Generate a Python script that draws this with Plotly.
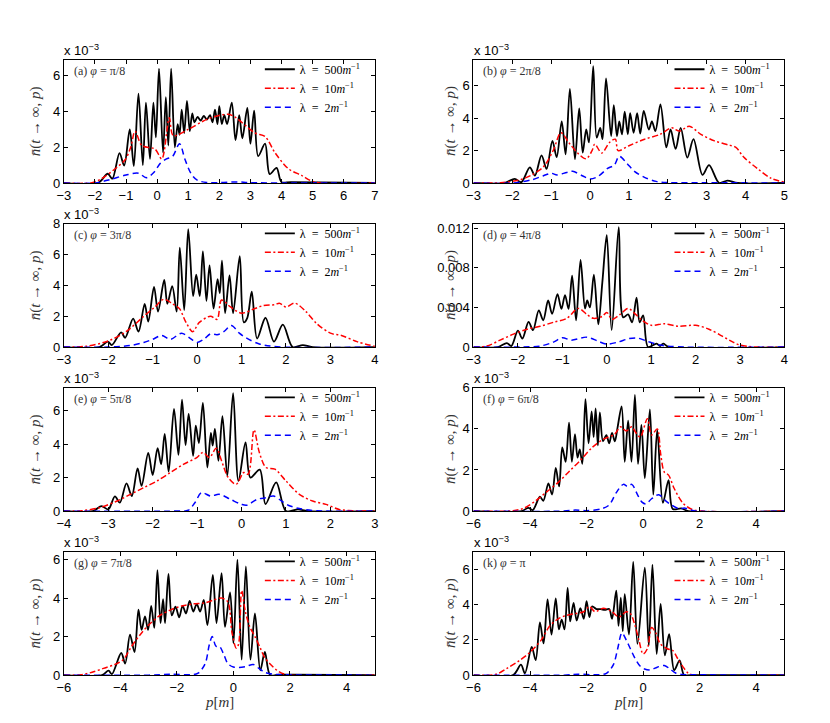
import plotly.graph_objects as go
from plotly.subplots import make_subplots

# pair number n(t->inf, p), in units of 1e-3
# (a) phi = pi/8
A_P_500 = [-3, -1.9, -1.59, -1.44, -1.21, -1.06, -0.88, -0.75, -0.60, -0.46, -0.36, -0.23, -0.12, -0.04,
           0.06, 0.19, 0.28, 0.36, 0.45, 0.57, 0.66, 0.72, 0.79, 0.87, 0.96, 1.05, 1.13, 1.2, 1.3, 1.4,
           1.5, 1.6, 1.7, 1.78, 1.86, 1.94, 2.0, 2.08, 2.16, 2.25, 2.4, 2.52, 2.64, 2.74, 2.9, 3.0, 3.12,
           3.25, 3.47, 3.62, 3.84, 4.0, 4.3, 7]
A_N_500 = [0, 0, 0.52, 0.24, 1.67, 0.98, 3.0, 0.95, 5.0, 1.0, 4.5, 1.35, 4.5, 2.55,
           6.4, 1.7, 4.8, 2.1, 6.4, 2.0, 3.3, 2.7, 4.1, 2.8, 4.6, 2.9, 3.9, 3.4, 3.7, 3.5,
           3.75, 3.55, 3.8, 3.4, 4.1, 3.3, 4.3, 3.3, 3.8, 3.3, 4.5, 2.4, 3.8, 2.5, 4.2, 2.2, 4.05,
           1.5, 2.2, 0.5, 0.85, 0.05, 0.05, 0]
A_P_10 = [-3, -2.1, -1.78, -1.35, -1.03, -0.85, -0.71, -0.49, -0.07, 0.15, 0.39, 0.52, 1.0, 1.65, 2.29,
          2.5, 2.72, 3.15, 3.47, 3.79, 4.22, 4.64, 5.07, 7]
A_N_10 = [0, 0.02, 0.25, 0.8, 1.3, 2.0, 2.9, 2.1, 1.9, 1.35, 3.65, 2.65, 3.0, 3.6, 3.85,
          3.7, 3.4, 2.8, 2.6, 1.7, 0.8, 0.43, 0.05, 0]
A_P_2 = [-3, -2.0, -1.5, -1.0, -0.6, -0.35, -0.1, 0.1, 0.3, 0.5, 0.72, 0.9, 1.1, 1.3, 1.6, 2.0, 2.6, 3.0, 7]
A_N_2 = [0, 0.0, 0.2, 0.45, 0.55, 0.3, 0.6, 1.1, 1.35, 1.5, 2.2, 1.3, 0.5, 0.15, 0.03, 0.02, 0.06, 0.02, 0]

# (b) phi = 2pi/8
B_P_500 = [-3, -2.2, -1.94, -1.77, -1.55, -1.42, -1.25, -1.12, -0.97, -0.86, -0.73, -0.63, -0.52, -0.39,
           -0.28, -0.19, -0.10, -0.03, 0.08, 0.17, 0.26, 0.32, 0.41, 0.54, 0.61, 0.69, 0.75, 0.82, 0.89,
           0.97, 1.03, 1.12, 1.21, 1.29, 1.38, 1.51, 1.59, 1.68, 1.81, 1.96, 2.07, 2.20, 2.33, 2.50, 2.66,
           2.89, 3.06, 3.32, 3.53, 3.8, 5]
B_N_500 = [0, 0.0, 0.26, 0.05, 0.97, 0.46, 1.7, 0.87, 2.6, 1.6, 3.8, 1.77, 5.8, 1.47,
           4.6, 1.87, 3.3, 2.5, 7.2, 2.8, 3.4, 2.7, 6.45, 2.9, 4.8, 2.9, 3.8, 3.0, 4.4,
           3.0, 4.3, 3.1, 4.3, 3.05, 4.45, 3.3, 3.8, 3.2, 4.85, 2.2, 3.3, 2.1, 3.4, 1.57, 2.7,
           0.5, 1.1, 0.0, 0.15, 0.0, 0]
B_P_10 = [-3, -2.3, -1.8, -1.5, -1.2, -0.95, -0.75, -0.55, -0.3, -0.1, 0.05, 0.12, 0.3, 0.5, 0.65, 0.72,
          1.0, 1.4, 1.8, 2.1, 2.3, 2.55, 2.85, 3.2, 3.55, 3.75, 3.95, 4.3, 4.65, 5.0]
B_N_10 = [0, 0.02, 0.2, 0.5, 1.0, 2.0, 3.1, 2.5, 1.8, 1.5, 2.0, 2.4, 1.85, 2.5, 2.7, 2.0,
          2.3, 2.7, 3.0, 3.4, 3.2, 3.5, 3.0, 2.6, 2.35, 2.2, 1.6, 0.9, 0.3, 0.05]
B_P_2 = [-3, -2.0, -1.5, -1.2, -1.0, -0.85, -0.6, -0.45, -0.2, 0.0, 0.2, 0.45, 0.62, 0.75, 0.95, 1.15,
         1.4, 1.7, 2.0, 3.0, 5]
B_N_2 = [0, 0.0, 0.2, 0.45, 0.6, 0.5, 0.65, 0.72, 0.45, 0.25, 0.4, 0.9, 1.1, 1.65, 1.2, 0.7,
         0.35, 0.1, 0.03, 0.02, 0]

# (c) phi = 3pi/8
C_P_500 = [-3, -2.2, -2.01, -1.92, -1.71, -1.62, -1.44, -1.32, -1.18, -1.10, -0.97, -0.88, -0.74, -0.67,
           -0.56, -0.46, -0.39, -0.29, -0.20, -0.09, -0.02, 0.06, 0.13, 0.21, 0.28, 0.37, 0.46, 0.51,
           0.56, 0.63, 0.73, 0.81, 0.96, 1.05, 1.13, 1.23, 1.35, 1.54, 1.73, 1.93, 2.15, 2.38, 2.6, 4]
C_N_500 = [0, 0.0, 0.35, 0.13, 0.95, 0.6, 1.85, 1.0, 2.8, 1.65, 3.9, 2.3, 4.35, 2.8,
           3.95, 2.3, 6.45, 2.4, 7.65, 3.3, 4.7, 3.3, 6.2, 3.0, 5.3, 2.5, 4.4, 3.5,
           5.6, 2.2, 4.65, 2.2, 5.9, 1.6, 1.9, 3.6, 0.55, 1.9, 0.35, 1.45, 0.0, 0.13, 0.0, 0]
C_P_10 = [-3, -2.5, -2.0, -1.6, -1.2, -0.95, -0.75, -0.55, -0.4, -0.25, -0.1, 0.05, 0.3, 0.45, 0.55,
          0.75, 1.0, 1.3, 1.5, 1.75, 1.85, 2.0, 2.2, 2.45, 2.7, 3.0, 3.25, 3.6, 4.0]
C_N_10 = [0, 0.05, 0.4, 1.0, 2.0, 2.6, 3.1, 2.8, 2.5, 1.6, 1.0, 1.6, 2.0, 1.8, 3.05,
          2.6, 2.2, 2.5, 2.7, 2.75, 2.85, 2.6, 2.85, 2.3, 1.5, 0.9, 0.75, 0.35, 0.05]
C_P_2 = [-3, -2.0, -1.5, -1.2, -1.0, -0.8, -0.6, -0.35, -0.15, 0.0, 0.15, 0.3, 0.45, 0.6, 0.77, 0.95,
         1.1, 1.4, 1.8, 4]
C_N_2 = [0, 0.0, 0.1, 0.3, 0.5, 0.75, 0.5, 0.9, 0.55, 0.3, 0.5, 0.85, 0.8, 1.0, 1.4, 0.9,
         0.6, 0.2, 0.02, 0]

# (d) phi = 4pi/8
D_P_500 = [-3, -2.45, -2.25, -2.15, -2.0, -1.9, -1.76, -1.66, -1.53, -1.43, -1.32, -1.23, -1.11, -1.02,
           -0.94, -0.86, -0.78, -0.69, -0.59, -0.49, -0.44, -0.38, -0.29, -0.19, -0.10, 0.0, 0.11, 0.27,
           0.37, 0.48, 0.57, 0.67, 0.74, 0.82, 0.93, 1.12, 1.2, 1.27, 1.4, 4]
D_N_500 = [0, 0.0, 0.4, 0.1, 1.65, 0.85, 2.55, 1.7, 3.7, 2.7, 4.7, 3.35, 5.35, 3.85,
           5.25, 3.85, 7.2, 2.7, 8.8, 3.9, 4.7, 4.0, 7.3, 2.3, 6.5, 11.3, 1.7, 12.1,
           3.0, 3.3, 2.5, 5.0, 2.5, 3.2, 0.0, 0.35, 0.1, 0.35, 0.0, 0]
D_P_10 = [-3, -2.7, -2.4, -2.1, -1.8, -1.5, -1.2, -0.9, -0.64, -0.45, -0.3, -0.1, 0.0, 0.12, 0.3, 0.48,
          0.65, 0.8, 1.0, 1.3, 1.6, 2.0, 2.3, 2.6, 2.8, 3.0, 3.3, 4]
D_N_10 = [0, 0.1, 0.7, 1.3, 1.8, 2.1, 2.5, 2.9, 3.9, 3.3, 2.9, 3.1, 3.5, 2.8, 3.3, 3.9,
          3.3, 2.7, 2.2, 2.35, 2.1, 2.2, 1.8, 1.1, 0.6, 0.2, 0.02, 0]
D_P_2 = [-3, -2.0, -1.5, -1.2, -1.0, -0.8, -0.45, -0.2, 0.0, 0.25, 0.5, 0.7, 0.9, 1.2, 1.6, 4]
D_N_2 = [0, 0.0, 0.1, 0.5, 0.95, 0.7, 1.0, 0.6, 0.3, 0.5, 0.85, 0.9, 0.6, 0.2, 0.02, 0]

# (e) phi = 5pi/8
E_P_500 = [-4, -3.35, -3.15, -3.0, -2.85, -2.74, -2.59, -2.47, -2.34, -2.25, -2.10, -2.0, -1.89, -1.81,
           -1.73, -1.64, -1.52, -1.42, -1.34, -1.26, -1.19, -1.09, -1.03, -0.96, -0.87, -0.77, -0.69,
           -0.65, -0.60, -0.52, -0.43, -0.32, -0.19, -0.07, 0.09, 0.2, 0.41, 0.54, 0.78, 1.0, 1.27, 1.5, 3]
E_N_500 = [0, 0.0, 0.3, 0.1, 0.88, 0.5, 1.65, 0.9, 2.55, 1.5, 3.47, 2.15, 3.75, 2.8,
           4.6, 2.35, 6.1, 3.35, 6.65, 3.94, 5.8, 3.3, 5.1, 4.06, 6.45, 2.6, 4.66,
           3.9, 4.9, 3.0, 5.66, 2.1, 7.03, 1.8, 4.1, 2.0, 2.47, 0.42, 1.71, 0.0, 0.1, 0.0, 0]
E_P_10 = [-4, -3.6, -3.2, -2.8, -2.5, -2.2, -1.9, -1.6, -1.3, -1.0, -0.87, -0.72, -0.57, -0.45, -0.3,
          -0.12, 0.05, 0.15, 0.28, 0.4, 0.55, 0.75, 1.0, 1.3, 1.6, 1.9, 2.2, 2.5, 3]
E_N_10 = [0, 0.02, 0.2, 0.6, 1.0, 1.4, 1.8, 2.3, 2.8, 3.2, 3.5, 3.2, 3.75, 3.0, 2.0,
          1.6, 2.3, 2.2, 4.85, 3.5, 2.6, 2.5, 1.8, 1.0, 0.6, 0.4, 0.1, 0.02, 0]
E_P_2 = [-4, -1.5, -1.2, -1.05, -0.9, -0.7, -0.5, -0.25, 0.0, 0.12, 0.35, 0.55, 0.72, 0.9, 1.05, 1.3,
         1.7, 3]
E_N_2 = [0, 0.0, 0.05, 0.5, 1.1, 0.9, 1.0, 0.7, 0.4, 0.35, 0.7, 0.8, 0.9, 0.6, 0.35, 0.15,
         0.02, 0]

# (f) phi = 6pi/8
F_P_500 = [-6, -4.3, -4.06, -3.9, -3.65, -3.53, -3.35, -3.22, -3.09, -2.97, -2.86, -2.74, -2.62, -2.52,
           -2.41, -2.32, -2.24, -2.15, -2.04, -1.93, -1.82, -1.75, -1.68, -1.6, -1.53, -1.42, -1.3,
           -1.2, -1.1, -1.0, -0.9, -0.76, -0.65, -0.53, -0.41, -0.29, -0.18, -0.06, 0.06, 0.24, 0.36,
           0.5, 0.7, 0.9, 1.05, 1.35, 1.6, 5]
F_N_500 = [0, 0.0, 0.16, 0.05, 0.7, 0.5, 1.35, 0.8, 2.1, 1.2, 3.1, 2.4, 4.3, 2.4,
           3.75, 2.6, 3.0, 2.3, 5.45, 3.3, 4.85, 3.6, 5.0, 3.2, 4.8, 3.4, 3.7,
           3.3, 3.8, 3.4, 4.1, 5.1, 2.4, 4.4, 2.4, 5.65, 2.3, 4.2, 1.6, 4.95, 0.8,
           3.95, 0.4, 1.5, 0.1, 0.13, 0.0, 0]
F_P_10 = [-6, -4.6, -4.2, -3.8, -3.4, -3.0, -2.6, -2.2, -1.8, -1.4, -1.0, -0.8, -0.6, -0.4, -0.25, -0.1,
          0.15, 0.3, 0.5, 0.62, 0.75, 0.9, 1.1, 1.4, 1.7, 2.1, 5]
F_N_10 = [0, 0.02, 0.15, 0.5, 0.95, 1.4, 1.95, 2.5, 3.1, 3.5, 3.75, 4.1, 3.9, 4.1, 3.8, 3.6,
          4.5, 3.7, 4.0, 2.8, 1.9, 1.75, 1.1, 0.4, 0.1, 0.0, 0]
F_P_2 = [-6, -2.8, -2.4, -2.0, -1.5, -1.2, -0.95, -0.7, -0.55, -0.4, -0.2, -0.05, 0.1, 0.3, 0.55, 0.8,
         1.0, 1.3, 1.45, 1.8, 5]
F_N_2 = [0, 0.0, 0.05, 0.02, 0.1, 0.3, 0.9, 1.3, 1.2, 1.3, 0.8, 0.45, 0.35, 0.6, 0.8, 0.5,
         0.3, 0.1, 0.15, 0.02, 0]

# (g) phi = 7pi/8
G_P_500 = [-6, -4.65, -4.42, -4.3, -3.97, -3.83, -3.66, -3.5, -3.36, -3.25, -3.13, -3.02, -2.91, -2.8,
           -2.69, -2.58, -2.49, -2.42, -2.30, -2.18, -2.05, -1.92, -1.8, -1.68, -1.55, -1.42, -1.3,
           -1.18, -1.05, -0.92, -0.73, -0.6, -0.42, -0.3, -0.12, 0.0, 0.14, 0.29, 0.44, 0.6, 0.76,
           0.95, 1.11, 1.3, 1.6, 5]
G_N_500 = [0, 0.0, 0.23, 0.05, 1.15, 0.6, 2.1, 1.2, 3.4, 2.35, 3.05, 2.35, 3.6, 2.45,
           5.45, 2.7, 3.95, 2.7, 5.25, 3.1, 3.55, 3.0, 3.6, 3.2, 3.85, 3.3, 3.7,
           3.3, 3.9, 2.6, 5.2, 2.7, 5.3, 2.5, 4.3, 1.65, 6.0, 0.8, 5.65, 0.8, 3.2,
           0.25, 1.2, 0.0, 0.02, 0]
G_P_10 = [-6, -5.4, -5.0, -4.6, -4.2, -3.9, -3.6, -3.3, -3.0, -2.6, -2.2, -1.8, -1.4, -1.0, -0.7, -0.42,
          -0.2, -0.05, 0.1, 0.18, 0.29, 0.42, 0.58, 0.76, 0.95, 1.11, 1.35, 1.59, 1.9, 5]
G_N_10 = [0, 0.02, 0.15, 0.35, 0.55, 0.8, 1.5, 2.1, 2.6, 3.1, 3.4, 3.6, 3.7, 3.75, 3.9, 4.0,
          3.8, 2.2, 1.4, 1.6, 4.4, 3.3, 2.5, 2.0, 1.4, 0.9, 0.5, 0.2, 0.02, 0]
G_P_2 = [-6, -3.0, -2.2, -1.5, -1.25, -1.0, -0.85, -0.75, -0.62, -0.5, -0.35, -0.2, 0.0, 0.2, 0.45, 0.7,
         0.9, 1.1, 1.4, 1.8, 5]
G_N_2 = [0, 0.0, 0.05, 0.02, 0.1, 0.6, 1.6, 2.0, 1.5, 1.5, 1.1, 0.6, 0.42, 0.4, 0.45, 0.55,
         0.35, 0.15, 0.05, 0.02, 0]

# (k) phi = pi
K_P_500 = [-6, -4.6, -4.32, -4.18, -3.94, -3.8, -3.65, -3.52, -3.38, -3.24, -3.09, -2.98, -2.88, -2.78,
           -2.67, -2.58, -2.46, -2.35, -2.22, -2.1, -2.0, -1.9, -1.8, -1.65, -1.5, -1.35, -1.2, -1.1,
           -0.95, -0.87, -0.79, -0.72, -0.65, -0.5, -0.35, -0.2, 0.06, 0.2, 0.33, 0.48, 0.62, 0.77,
           0.92, 1.1, 1.29, 1.45, 1.7, 5]
K_N_500 = [0, 0.0, 0.6, 0.1, 1.6, 0.85, 3.0, 1.8, 4.3, 2.3, 4.35, 2.6, 3.15, 2.6,
           4.95, 3.05, 4.1, 3.1, 3.8, 3.2, 4.2, 3.3, 3.9, 3.75, 3.75, 3.7, 3.75, 3.2,
           4.8, 2.8, 4.4, 2.5, 4.6, 2.3, 6.43, 1.77, 6.1, 1.68, 6.28, 1.2, 4.04, 1.12,
           2.33, 0.28, 0.84, 0.0, 0.0, 0]
K_P_10 = [-6, -5.2, -4.8, -4.4, -4.0, -3.6, -3.3, -3.0, -2.7, -2.4, -2.1, -1.9, -1.7, -1.4, -1.1, -0.85,
          -0.6, -0.45, -0.3, -0.15, 0.0, 0.15, 0.3, 0.45, 0.6, 0.85, 1.05, 1.2, 1.4, 1.6, 1.8, 5]
K_N_10 = [0, 0.05, 0.4, 0.8, 1.3, 2.0, 2.8, 3.2, 3.4, 3.5, 3.6, 3.9, 3.6, 3.8, 3.6, 3.3,
          3.6, 3.5, 2.9, 2.0, 1.2, 1.5, 2.7, 2.4, 1.8, 1.5, 1.4, 1.0, 0.5, 0.1, 0.0, 0]
K_P_2 = [-6, -2.8, -2.3, -1.6, -1.3, -1.05, -0.9, -0.75, -0.6, -0.45, -0.3, -0.1, 0.05, 0.25, 0.5, 0.75,
         0.95, 1.15, 1.4, 1.8, 5]
K_N_2 = [0, 0.0, 0.05, 0.02, 0.1, 0.6, 1.5, 2.4, 2.0, 1.5, 1.0, 0.5, 0.35, 0.3, 0.45, 0.55,
         0.35, 0.12, 0.03, 0.02, 0]

LABELS = ["(a) <i>φ</i> = π/8", "(b) <i>φ</i> = 2π/8", "(c) <i>φ</i> = 3π/8", "(d) <i>φ</i> = 4π/8",
          "(e) <i>φ</i> = 5π/8", "(f) <i>φ</i> = 6π/8", "(g) <i>φ</i> = 7π/8", "(k) <i>φ</i> = π"]
LAMBDAS = ["λ\u2002=\u2002500<i>m</i><sup>−1</sup>", "λ\u2002=\u200210<i>m</i><sup>−1</sup>",
           "λ\u2002=\u20022<i>m</i><sup>−1</sup>"]
YTITLE = "<i>n̄</i>(<i>t</i> → ∞, <i>p</i>)"
XTITLE = "<i>p</i>[<i>m</i>]"
D_TICKS = [0, 4, 8, 12]
D_TICKTEXT = ["0", "0.004", "0.008", "0.012"]

curves = [
    [(A_P_500, A_N_500), (A_P_10, A_N_10), (A_P_2, A_N_2)],
    [(B_P_500, B_N_500), (B_P_10, B_N_10), (B_P_2, B_N_2)],
    [(C_P_500, C_N_500), (C_P_10, C_N_10), (C_P_2, C_N_2)],
    [(D_P_500, D_N_500), (D_P_10, D_N_10), (D_P_2, D_N_2)],
    [(E_P_500, E_N_500), (E_P_10, E_N_10), (E_P_2, E_N_2)],
    [(F_P_500, F_N_500), (F_P_10, F_N_10), (F_P_2, F_N_2)],
    [(G_P_500, G_N_500), (G_P_10, G_N_10), (G_P_2, G_N_2)],
    [(K_P_500, K_N_500), (K_P_10, K_N_10), (K_P_2, K_N_2)],
]
x_ranges = [[-3, 7], [-3, 5], [-3, 4], [-3, 4], [-4, 3], [-6, 5], [-6, 5], [-6, 5]]
x_dticks = [1, 1, 1, 1, 1, 2, 2, 2]
y_tops = [6.9, 7.6, 8.0, 12.45, 7.35, 6.0, 6.4, 7.0]

styles = [
    dict(color="black", width=1.8, dash="solid"),
    dict(color="red", width=1.5, dash="6px,2.5px,2px,2.5px"),
    dict(color="blue", width=1.5, dash="6px,4px"),
]

W, H = 830, 723
# target pixel layout of the original page; the photo of our page comes out
# offset and slightly shrunk, so map target pixels back through that
AX, BX = 13, 0.99
AY, BY = 12, 0.985
col_px = [(62, 374), (473, 785)]
row_top_px = [57, 222, 387, 552]
panel_h = 124
ytitle_px = 450  # right column, the title crosses the wide tick labels of (d)


def fx(px):
    return (px - AX) / BX / W


def fy(py):
    return 1 - (py - AY) / BY / H


serif = "Liberation Serif"
sans = "Liberation Sans"
title_font = dict(family=serif, size=15, color="#333333")

fig = make_subplots(rows=4, cols=2)

for i, panel in enumerate(curves):
    r, c = divmod(i, 2)
    lg = "legend" if i == 0 else f"legend{i + 1}"
    for (p, n), name, st in zip(panel, LAMBDAS, styles):
        fig.add_trace(
            go.Scatter(x=p, y=n, mode="lines", name=name, legend=lg,
                       line=dict(shape="spline", smoothing=0.9, **st)),
            row=r + 1, col=c + 1,
        )

    left, right = col_px[c]
    top = row_top_px[r]
    ax = "" if i == 0 else str(i + 1)
    fig.layout["xaxis" + ax].domain = [fx(left), fx(right)]
    fig.layout["yaxis" + ax].domain = [fy(top + panel_h), fy(top)]

    fig.update_xaxes(range=x_ranges[i], dtick=x_dticks[i], row=r + 1, col=c + 1)
    if i == 3:
        fig.update_yaxes(range=[0, y_tops[i]], tickvals=D_TICKS, ticktext=D_TICKTEXT, row=r + 1, col=c + 1)
    else:
        fig.update_yaxes(range=[0, y_tops[i]], dtick=2, row=r + 1, col=c + 1)
        fig.add_annotation(text="x 10<sup>−3</sup>", xref=f"x{ax} domain", yref=f"y{ax} domain",
                           x=-0.005, y=1.0, xanchor="left", yanchor="bottom", showarrow=False,
                           font=dict(family=sans, size=13, color="black"))

    fig.add_annotation(text=LABELS[i], xref=f"x{ax} domain", yref=f"y{ax} domain",
                       x=0.025, y=0.985, xanchor="left", yanchor="top", showarrow=False,
                       font=dict(family=serif, size=12, color="#333333"))

    if c == 0:
        fig.update_yaxes(title_text=YTITLE, title_font=title_font, title_standoff=8,
                         row=r + 1, col=c + 1)
    else:
        fig.add_annotation(text=YTITLE, xref="paper", yref="paper",
                           x=fx(ytitle_px), y=fy(top + panel_h / 2), xanchor="center", yanchor="middle",
                           textangle=-90, showarrow=False, font=title_font)
    if r == 3:
        fig.add_annotation(text=XTITLE, xref="paper", yref="paper",
                           x=fx((left + right) / 2), y=fy(703), xanchor="center", yanchor="middle",
                           showarrow=False, font=title_font)

    fig.update_layout(**{lg: dict(
        x=fx(right - 9), y=fy(top - 5), xanchor="right", yanchor="top",
        bgcolor="rgba(0,0,0,0)", font=dict(family=serif, size=12, color="black"),
        tracegroupgap=0, itemwidth=30,
    )})

fig.update_xaxes(showline=True, linewidth=1.2, linecolor="black", mirror="ticks", ticks="inside",
                 ticklen=4, tickcolor="black", showgrid=False, zeroline=False,
                 tickfont=dict(family=sans, size=13, color="black"))
fig.update_yaxes(showline=True, linewidth=1.2, linecolor="black", mirror="ticks", ticks="inside",
                 ticklen=4, tickcolor="black", showgrid=False, zeroline=False,
                 tickfont=dict(family=sans, size=13, color="black"))

fig.update_layout(
    width=W, height=H,
    margin=dict(l=0, r=0, t=0, b=0),
    paper_bgcolor="white", plot_bgcolor="white",
    font=dict(family=sans, size=13, color="black"),
)

fig.write_html("out.html")
